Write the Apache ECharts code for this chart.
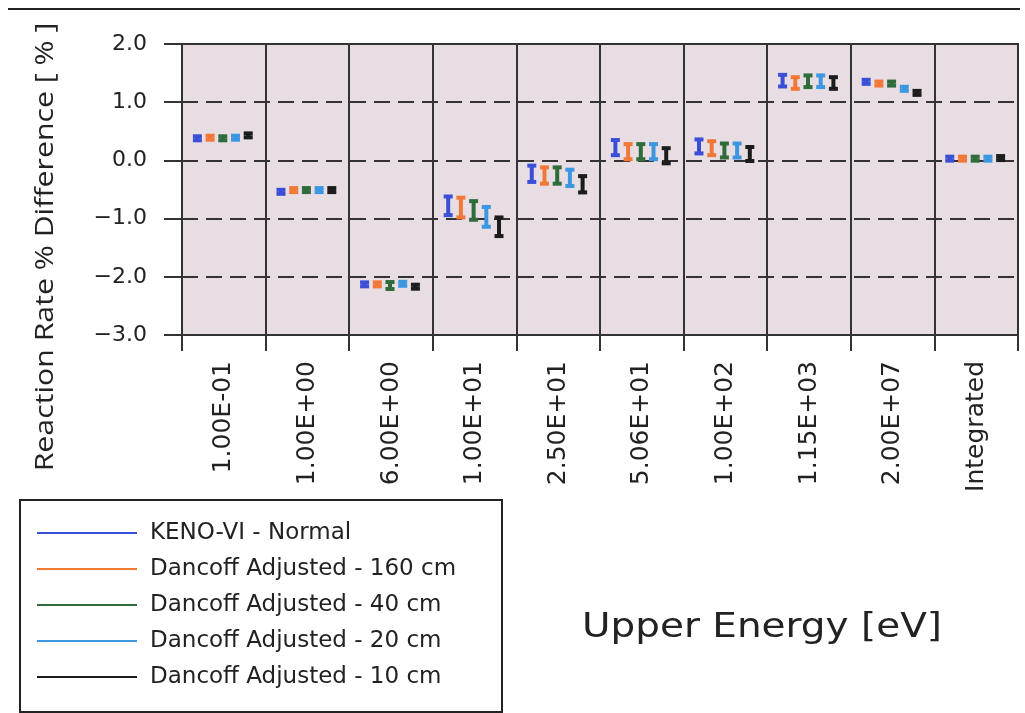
<!DOCTYPE html>
<html>
<head>
<meta charset="utf-8">
<script src="https://cdn.jsdelivr.net/npm/echarts@6/dist/echarts.min.js"></script>
<style>
  html, body { margin: 0; padding: 0; background: #fff; }
  #chart { width: 1025px; height: 713px; }
</style>
</head>
<body>
<div id="chart"></div>
<script>
// upper energy bins
const categories = ["1.00E-01", "1.00E+00", "6.00E+00", "1.00E+01", "2.50E+01",
  "5.06E+01", "1.00E+02", "1.15E+03", "2.00E+07", "Integrated"];

const seriesNames = ["KENO-VI - Normal", "Dancoff Adjusted - 160 cm", "Dancoff Adjusted - 40 cm",
  "Dancoff Adjusted - 20 cm", "Dancoff Adjusted - 10 cm"];
const seriesColors = ["#3b4fd6", "#f27838", "#2f6b3b", "#3d97e0", "#1c1c1c"];

// % difference values
const normal = [0.38, -0.54, -2.13, -0.78, -0.23, 0.22, 0.24, 1.37, 1.35, 0.03];
const d160   = [0.39, -0.51, -2.13, -0.81, -0.26, 0.15, 0.21, 1.33, 1.32, 0.03];
const d40    = [0.38, -0.51, -2.15, -0.86, -0.26, 0.15, 0.17, 1.36, 1.32, 0.03];
const d20    = [0.39, -0.51, -2.12, -0.97, -0.30, 0.15, 0.17, 1.36, 1.23, 0.03];
const d10    = [0.43, -0.51, -2.17, -1.14, -0.41, 0.08, 0.11, 1.33, 1.16, 0.04];

// uncertainty (1 sigma, %)
const errNormal = [0.02, 0.02, 0.03, 0.16, 0.14, 0.13, 0.12, 0.10, 0.02, 0.01];
const err160    = [0.02, 0.02, 0.03, 0.17, 0.14, 0.13, 0.12, 0.10, 0.02, 0.01];
const err40     = [0.02, 0.02, 0.06, 0.16, 0.14, 0.13, 0.12, 0.10, 0.02, 0.01];
const err20     = [0.02, 0.02, 0.03, 0.17, 0.14, 0.13, 0.12, 0.10, 0.02, 0.01];
const err10     = [0.02, 0.02, 0.03, 0.16, 0.14, 0.13, 0.12, 0.10, 0.02, 0.01];

const yTicks = [-3, -2, -1, 0, 1, 2];

const values = [normal, d160, d40, d20, d10];
const errors = [errNormal, err160, err40, err20, err10];

function errorBar(si) {
  return function (params, api) {
    const idx = api.value(0);
    const y = api.value(1);
    const e = api.value(2);
    const band = api.size([1, 0])[0];
    const c = api.coord([idx, y]);
    const x = c[0] + (si - 2) * band * 0.152 - 1;
    let top = api.coord([idx, y + e])[1];
    let bot = api.coord([idx, y - e])[1];
    if (bot - top < 4) { top = c[1] - 2; bot = c[1] + 2; }
    const style = { fill: seriesColors[si] };
    return {
      type: "group",
      children: [
        { type: "rect", shape: { x: x - 2, y: top, width: 4, height: bot - top }, style: style },
        { type: "rect", shape: { x: x - 4.5, y: top - 2, width: 9, height: 4 }, style: style },
        { type: "rect", shape: { x: x - 4.5, y: bot - 2, width: 9, height: 4 }, style: style }
      ]
    };
  };
}

let chart = echarts.init(document.getElementById("chart"));

let series = seriesNames.map(function (name, si) {
  return {
    name: name,
    type: "custom",
    renderItem: errorBar(si),
    itemStyle: { color: seriesColors[si] },
    encode: { x: 0, y: 1 },
    data: categories.map(function (c, i) { return [i, values[si][i], errors[si][i]]; })
  };
});

let option = {
  backgroundColor: "#ffffff",
  animation: false,
  grid: {
    left: 182, top: 44, width: 836, height: 291,
    show: true,
    backgroundColor: "#e7dde2",
    borderColor: "#333",
    borderWidth: 2
  },
  xAxis: {
    type: "category",
    data: categories,
    boundaryGap: true,
    axisLine: { onZero: false, lineStyle: { color: "#333", width: 2 } },
    axisTick: { show: true, inside: false, length: 16, interval: 0, lineStyle: { color: "#333", width: 2 } },
    axisLabel: {
      interval: 0, rotate: 90, margin: 26,
      fontFamily: "DejaVu Sans", fontSize: 25, color: "#222"
    },
    splitLine: { show: true, interval: 0, lineStyle: { color: "#333", width: 2 } }
  },
  yAxis: {
    type: "value",
    min: yTicks[0], max: yTicks[yTicks.length - 1], interval: 1,
    axisLine: { show: true, lineStyle: { color: "#333", width: 2 } },
    axisTick: { show: true, inside: false, length: 18, lineStyle: { color: "#333", width: 2 } },
    axisLabel: {
      margin: 35,
      fontFamily: "DejaVu Sans", fontSize: 22, color: "#222",
      formatter: function (v) { return (v < 0 ? "\u2212" : "") + Math.abs(v).toFixed(1); }
    },
    splitLine: { show: true, lineStyle: { color: "#333", width: 2, type: [16, 8] } }
  },
  legend: {
    orient: "vertical",
    left: 20, top: 500,
    padding: [20, 12, 22, 17],
    borderColor: "#222",
    borderWidth: 2,
    itemGap: 10,
    itemWidth: 100,
    itemHeight: 2,
    icon: "rect",
    textStyle: {
      fontFamily: "DejaVu Sans", fontSize: 23, color: "#222", lineHeight: 26,
      width: 340, padding: [0, 0, 0, 8]
    },
    data: seriesNames
  },
  graphic: [
    { type: "line", shape: { x1: 8, y1: 9, x2: 1020, y2: 9 }, style: { stroke: "#222", lineWidth: 2 } },
    {
      type: "text", x: 46, y: 247, rotation: Math.PI / 2, scaleX: 1.21,
      style: {
        text: "Reaction Rate % Difference [ % ]",
        fontFamily: "Open Sans", fontSize: 25, fill: "#222",
        textAlign: "center", textVerticalAlign: "middle"
      }
    },
    {
      type: "text", x: 762, y: 628, scaleX: 1.18,
      style: {
        text: "Upper Energy [eV]",
        fontFamily: "DejaVu Sans", fontSize: 33, fill: "#222",
        textAlign: "center", textVerticalAlign: "middle"
      }
    }
  ],
  series: series
};

chart.setOption(option);
</script>
</body>
</html>
